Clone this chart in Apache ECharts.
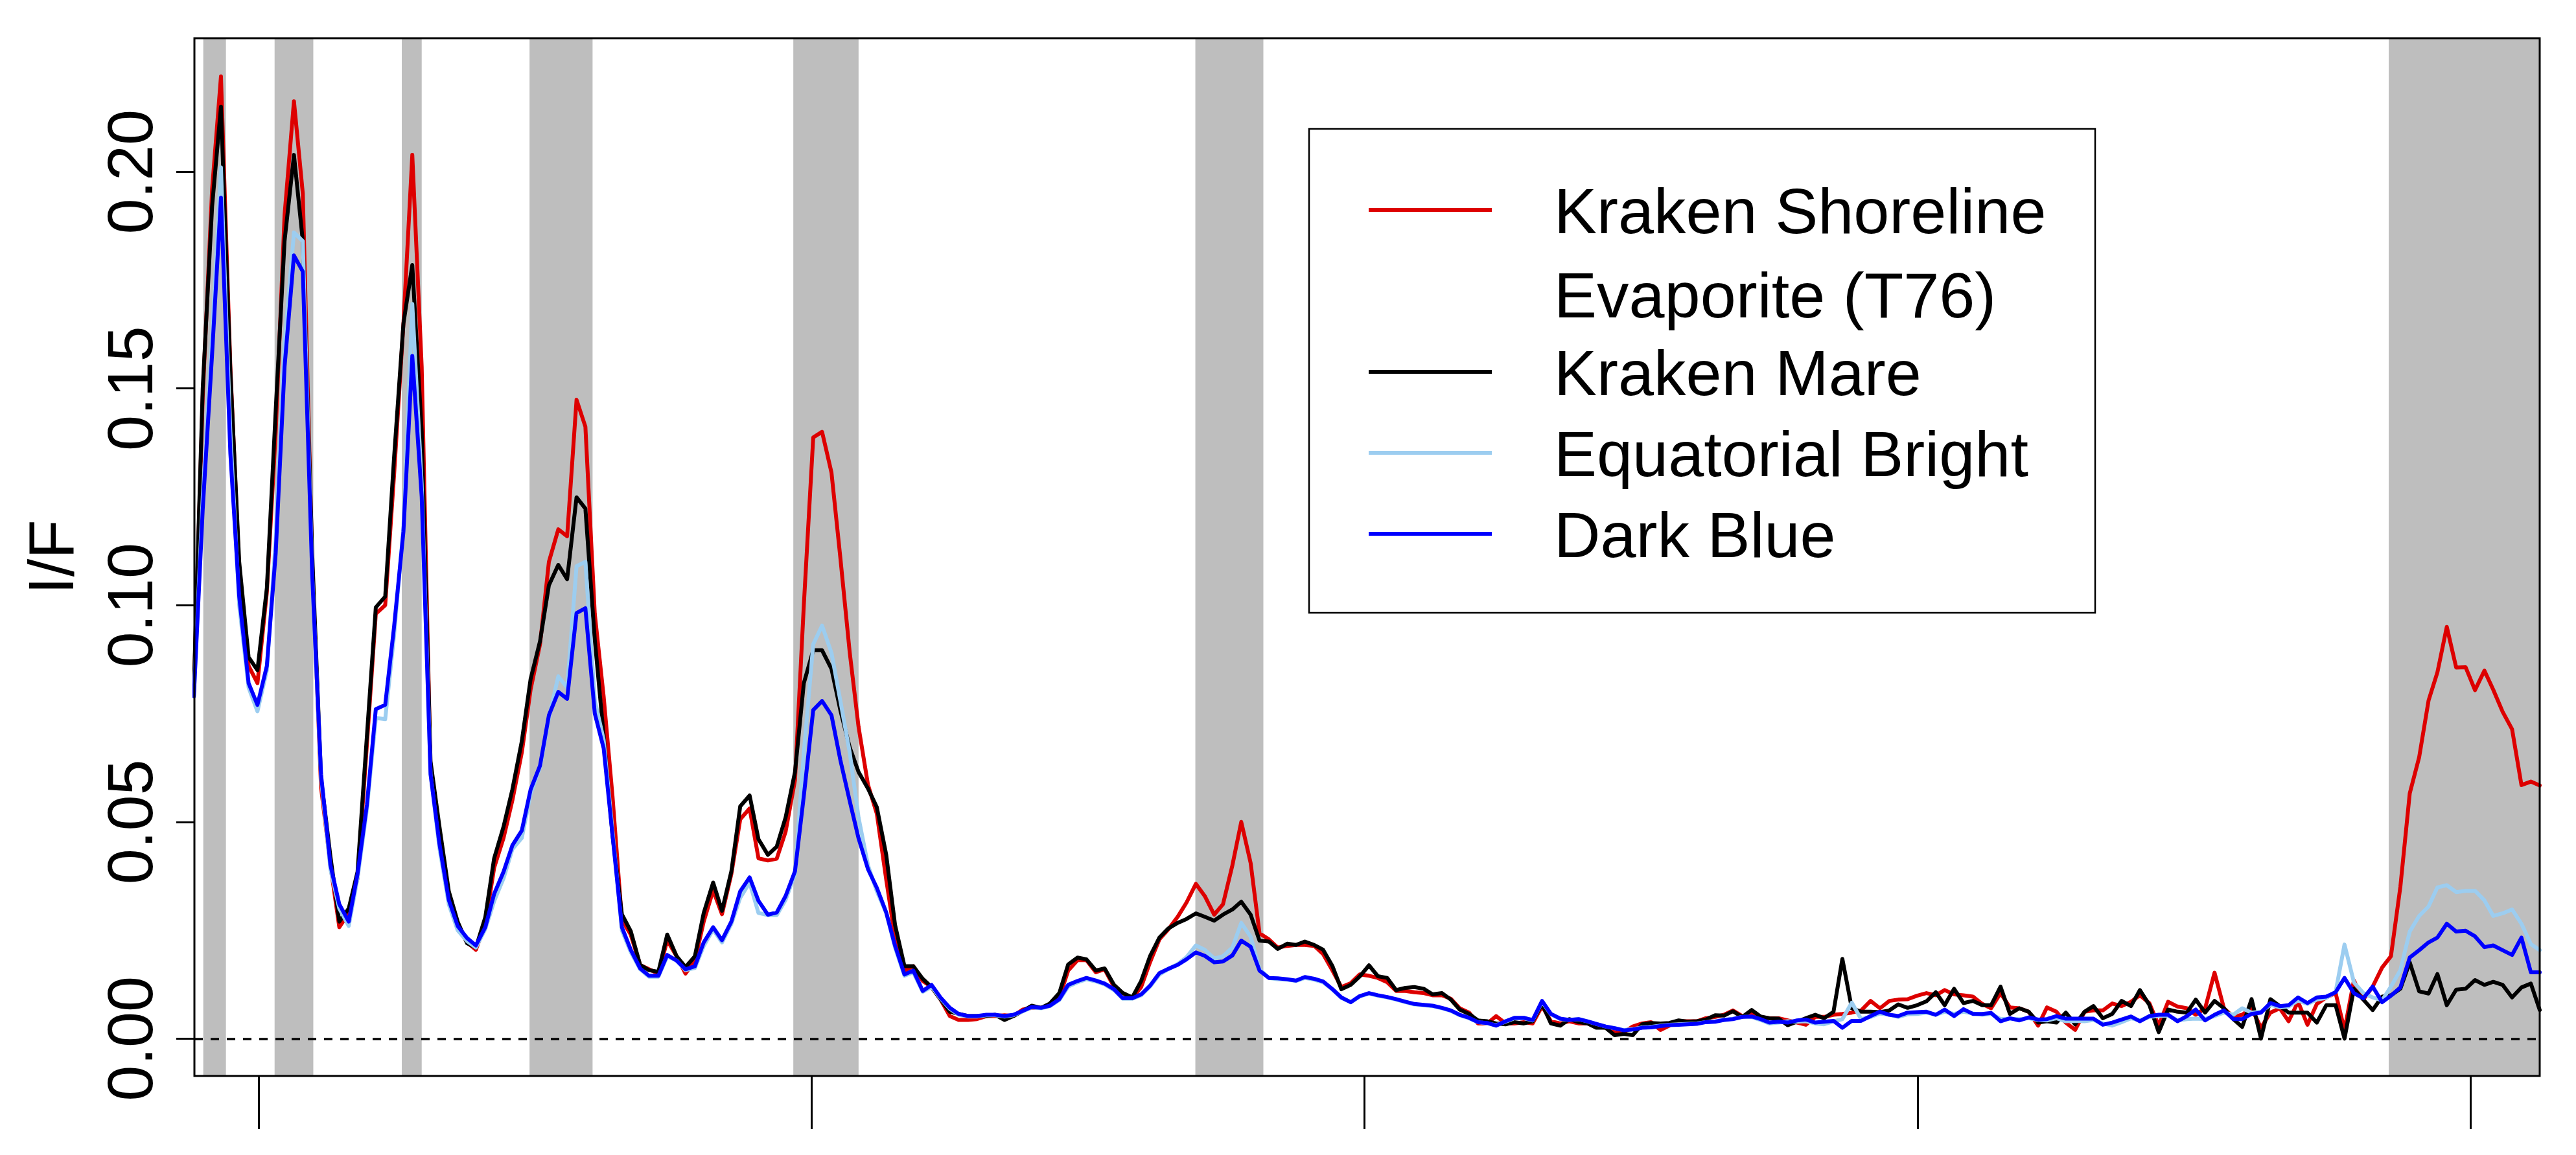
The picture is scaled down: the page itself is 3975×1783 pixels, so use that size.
<!DOCTYPE html>
<html><head><meta charset="utf-8">
<script src="https://cdn.jsdelivr.net/npm/echarts@6/dist/echarts.min.js"></script>
<style>html,body{margin:0;padding:0;background:#fff}#c{width:3975px;height:1783px}</style>
</head><body><div id="c"></div>
<script>
// wavelength of each spectral channel (micron)
const wavelength=[0.883,0.899,0.916,0.932,0.949,0.965,0.982,0.998,1.015,1.031,
1.047,1.064,1.080,1.097,1.113,1.130,1.146,1.163,1.179,1.196,
1.212,1.229,1.245,1.262,1.278,1.295,1.311,1.327,1.344,1.360,
1.377,1.393,1.410,1.426,1.443,1.459,1.476,1.492,1.509,1.525,
1.542,1.558,1.575,1.591,1.608,1.624,1.640,1.657,1.673,1.690,
1.706,1.723,1.739,1.756,1.772,1.789,1.805,1.822,1.838,1.855,
1.871,1.888,1.904,1.921,1.937,1.953,1.970,1.986,2.003,2.019,
2.036,2.052,2.069,2.085,2.102,2.118,2.135,2.151,2.168,2.184,
2.201,2.217,2.233,2.250,2.266,2.283,2.299,2.316,2.332,2.349,
2.365,2.382,2.398,2.415,2.431,2.448,2.464,2.481,2.497,2.514,
2.530,2.547,2.563,2.580,2.596,2.612,2.629,2.645,2.662,2.678,
2.695,2.711,2.728,2.744,2.761,2.777,2.794,2.810,2.827,2.843,
2.860,2.876,2.892,2.909,2.925,2.942,2.958,2.975,2.991,3.008,
3.024,3.041,3.057,3.074,3.090,3.107,3.123,3.140,3.156,3.172,
3.189,3.205,3.222,3.238,3.255,3.271,3.288,3.304,3.321,3.337,
3.354,3.370,3.387,3.403,3.419,3.436,3.452,3.469,3.485,3.502,
3.518,3.535,3.551,3.568,3.584,3.601,3.617,3.634,3.650,3.666,
3.683,3.700,3.716,3.732,3.749,3.765,3.782,3.798,3.815,3.831,
3.848,3.864,3.881,3.898,3.915,3.932,3.949,3.965,3.982,3.999,
4.016,4.033,4.049,4.066,4.083,4.100,4.117,4.133,4.150,4.167,
4.184,4.201,4.218,4.234,4.251,4.268,4.285,4.302,4.318,4.335,
4.352,4.369,4.386,4.402,4.419,4.436,4.453,4.470,4.487,4.503,
4.520,4.537,4.554,4.571,4.587,4.604,4.621,4.638,4.655,4.671,
4.688,4.705,4.722,4.739,4.756,4.772,4.789,4.806,4.823,4.840,
4.856,4.873,4.890,4.907,4.924,4.940,4.957,4.974,4.991,5.008,
5.025,5.041,5.058,5.075,5.092,5.109,5.125];

// I/F values per channel
const krakenShoreline=[.080,.148,.196,.222,.155,.108,.086,.082,.103,.140,
.190,.2163,.195,.110,.058,.040,.0257,.029,.037,.068,
.098,.100,.130,.165,.2039,.155,.062,.047,.033,.026,
.0222,.0205,.0265,.0394,.0463,.055,.066,.0806,.091,.110,
.1175,.1159,.1474,.1412,.098,.079,.056,.0274,.024,.017,
.016,.015,.0227,.019,.015,.018,.027,.0342,.0287,.038,
.0506,.0531,.0416,.0411,.0415,.0477,.0596,.100,.1387,.140,
.1306,.111,.0891,.0719,.0586,.0519,.0367,.0233,.0157,.0167,
.0133,.0119,.0091,.0052,.0043,.0043,.0045,.0052,.0052,.0054,
.0052,.0067,.0071,.0071,.0076,.0095,.0157,.0181,.0181,.0153,
.016,.0119,.0105,.0093,.0119,.0176,.0229,.0252,.0281,.0314,
.0357,.0329,.0286,.031,.04,.05,.0405,.0243,.0229,.021,
.0214,.0216,.0216,.0214,.0195,.0157,.0119,.0128,.0148,.0145,
.014,.013,.011,.011,.0107,.0105,.01,.01,.0092,.007,
.006,.0035,.0035,.0052,.0035,.0035,.0038,.0035,.0075,.004,
.0035,.004,.0035,.0035,.0028,.0025,.0015,.0015,.0028,.0035,
.0038,.002,.003,.004,.004,.004,.0047,.005,.0055,.0065,
.0052,.0058,.005,.0047,.0047,.0042,.0037,.0032,.005,.005,
.0055,.0057,.006,.0065,.0087,.007,.0087,.009,.0091,.0099,
.0105,.01,.0112,.0102,.01,.0097,.008,.007,.0105,.0072,
.007,.0062,.003,.0072,.0062,.0037,.002,.0062,.0065,.0065,
.0081,.0075,.0085,.01,.0082,.003,.0085,.0074,.007,.0055,
.007,.0152,.007,.005,.0055,.007,.0025,.006,.007,.004,
.0085,.0032,.008,.0095,.0105,.002,.0134,.009,.012,.0164,
.019,.035,.0566,.0649,.078,.0845,.095,.0856,.0857,.0804,
.0849,.0805,.0754,.0714,.0585,.0593,.0584];

const krakenMare=[.081,.150,.192,.215,.154,.110,.088,.085,.104,.145,
.184,.2039,.184,.112,.060,.042,.027,.030,.0385,.070,
.0995,.102,.134,.165,.1785,.140,.064,.049,.034,.027,
.022,.021,.028,.0416,.0489,.0575,.0686,.083,.0917,.1046,
.1093,.106,.1249,.1223,.092,.070,.047,.0287,.0248,.017,
.0158,.0154,.024,.019,.0165,.019,.029,.036,.0295,.0386,
.0536,.0561,.046,.0424,.0443,.051,.0615,.082,.0896,.0896,
.0853,.0758,.0672,.0615,.0577,.0534,.0424,.0262,.0167,.0167,
.0138,.0119,.0091,.0062,.0057,.0052,.0052,.0052,.0055,.0043,
.0052,.0064,.0076,.0071,.0081,.0105,.0171,.0187,.0183,.0157,
.0162,.0124,.0105,.0095,.0133,.019,.0233,.0254,.0267,.0276,
.0289,.0281,.0272,.0286,.0298,.0316,.0286,.0226,.0224,.0207,
.0219,.0216,.0224,.0216,.0205,.0167,.0114,.0124,.0143,.0169,
.0144,.014,.0112,.0117,.0119,.0115,.0102,.0105,.009,.0067,
.0057,.0042,.004,.0035,.0033,.0038,.0035,.004,.008,.0035,
.003,.0045,.0038,.0035,.0025,.0025,.0008,.0011,.0008,.0033,
.0036,.0035,.0036,.0042,.0039,.004,.0044,.0054,.0053,.0063,
.005,.0066,.0051,.0047,.0046,.0031,.0039,.0047,.0055,.0047,
.0062,.0184,.007,.0062,.0062,.0061,.0065,.0079,.0071,.0077,
.0086,.0107,.0077,.0115,.0082,.0087,.0077,.0077,.012,.0057,
.007,.0062,.0037,.004,.0037,.006,.0033,.0062,.0075,.0047,
.0057,.0087,.0075,.0112,.0078,.0015,.0067,.0062,.006,.009,
.006,.0087,.007,.0045,.0027,.0091,0,.0091,.0075,.006,
.006,.006,.0037,.0077,.0077,0,.0115,.009,.0066,.0097,
.01,.0115,.0176,.0109,.0104,.0149,.0077,.0113,.0115,.0135,
.0124,.0131,.0124,.0095,.0118,.0127,.0066];

const equatorialBright=[.079,.125,.162,.201,.140,.100,.081,.0755,.085,.115,
.160,.186,.184,.107,.060,.039,.030,.026,.037,.053,
.074,.0737,.093,.118,.1695,.128,.061,.044,.031,.025,
.0225,.021,.0253,.0317,.037,.0437,.0463,.0565,.0626,.074,
.0836,.081,.109,.110,.078,.069,.048,.025,.020,.016,
.0143,.0143,.019,.018,.0158,.0163,.0214,.0252,.0222,.0265,
.0325,.036,.029,.0285,.0285,.032,.038,.066,.091,.0953,
.089,.078,.066,.051,.040,.034,.029,.021,.0145,.0153,
.0108,.012,.0093,.0069,.0055,.0051,.0051,.0054,.0054,.0051,
.0054,.0063,.0072,.007,.0075,.0089,.012,.013,.0137,.0132,
.0125,.0112,.0092,.0092,.01,.012,.0148,.016,.0172,.0188,
.0215,.0205,.0185,.019,.021,.0267,.0235,.016,.014,.0137,
.0136,.0133,.014,.0136,.013,.0113,.0094,.0084,.0097,.0104,
.0099,.0095,.009,.0084,.0079,.0077,.0075,.007,.0064,.0054,
.0047,.0038,.0035,.0031,.0039,.0047,.0047,.0042,.0085,.0056,
.0045,.0043,.0045,.004,.0034,.0028,.0024,.002,.0022,.0026,
.0027,.003,.0032,.0033,.0034,.0035,.0038,.004,.0043,.0046,
.005,.005,.0043,.0035,.0037,.004,.0039,.004,.0035,.0033,
.004,.0045,.0083,.0045,.005,.0058,.0055,.005,.0056,.0057,
.006,.0055,.0062,.0057,.0062,.0058,.0055,.0057,.0045,.0046,
.0045,.0047,.0043,.0042,.0047,.004,.0041,.004,.0043,.0035,
.003,.0038,.0047,.0042,.005,.0052,.0053,.0042,.0045,.0046,
.0045,.0052,.006,.0055,.007,.006,.0062,.0078,.0072,.0074,
.0088,.008,.009,.0094,.0108,.0217,.013,.0105,.0095,.0088,
.012,.0158,.0247,.0283,.0305,.0349,.0354,.0338,.0341,.0341,
.0319,.0283,.0289,.0298,.0265,.0218,.0204];

const darkBlue=[.079,.122,.158,.194,.135,.102,.082,.077,.086,.112,
.155,.1807,.177,.107,.061,.040,.031,.027,.038,.054,
.076,.077,.095,.117,.1575,.125,.061,.045,.032,.026,
.0232,.0215,.0257,.0334,.0385,.0446,.048,.0575,.063,.0746,
.080,.0784,.0982,.0993,.075,.067,.047,.0257,.0205,.0162,
.0145,.0145,.0193,.018,.016,.0167,.0222,.0257,.0227,.027,
.034,.0372,.0318,.0286,.0291,.0329,.0386,.056,.0758,.0779,
.0746,.0643,.0548,.0462,.0391,.0348,.0291,.0214,.0148,.0157,
.011,.0124,.0095,.0071,.0057,.0052,.0052,.0055,.0055,.0052,
.0055,.0064,.0073,.0071,.0076,.0091,.0124,.0133,.014,.0134,
.0127,.0114,.0093,.0093,.0102,.0122,.0151,.0161,.017,.0183,
.0199,.0191,.0176,.0178,.0192,.0226,.0212,.0157,.014,.0139,
.0137,.0134,.0142,.0138,.0132,.0114,.0095,.0084,.0098,.0105,
.01,.0096,.0091,.0085,.008,.0078,.0076,.0071,.0065,.0055,
.0048,.0038,.0036,.003,.004,.0048,.0048,.0043,.0087,.0057,
.0046,.0043,.0045,.004,.0034,.0028,.0024,.0019,.0021,.0025,
.0026,.0029,.0031,.0032,.0033,.0034,.0038,.0039,.0043,.0045,
.005,.0051,.0045,.0037,.0039,.0037,.0042,.0044,.0037,.0039,
.0041,.0025,.0041,.0041,.0052,.0062,.0055,.0052,.006,.0061,
.0062,.0055,.0067,.0052,.0068,.0057,.0057,.0059,.004,.0047,
.0042,.0049,.0044,.0045,.0052,.0046,.0046,.0046,.0046,.0032,
.0037,.0044,.0051,.004,.0052,.0055,.0055,.004,.0052,.0067,
.0042,.0055,.0065,.0045,.0045,.0057,.006,.0082,.0075,.0077,
.0095,.0082,.0095,.0097,.0107,.014,.0105,.0093,.012,.0084,
.0099,.0118,.0187,.0204,.0222,.0233,.0265,.0247,.0249,.0236,
.0211,.0215,.0204,.0193,.0233,.0153,.0153];

// shaded wavelength windows (micron)
const windowBands=[[0.900,0.941],[1.029,1.099],[1.259,1.295],[1.490,1.604],[1.967,2.085],[2.694,2.817],[4.852,5.125]];
const xTicks=[1,2,3,4,5];
const yTicks=[0,0.05,0.10,0.15,0.20];
const legendLines=['Kraken Shoreline','Evaporite (T76)','Kraken Mare','Equatorial Bright','Dark Blue'];

const FONT='"Liberation Sans", Arial, Helvetica, sans-serif';
const RED='#DD0000', BLACK='#000000', LIGHT='#9CCDF0', BLUE='#0000FF';
const FS=99;

const chart=echarts.init(document.getElementById('c'),null,{renderer:'svg',width:3975,height:1783});
const pairs=a=>wavelength.map((w,i)=>[w,a[i]]);
const lineSeries=(name,arr,color,z)=>({
  type:'line',name:name,data:pairs(arr),showSymbol:false,symbol:'none',z:z,clip:true,silent:true,
  lineStyle:{color:color,width:6,join:'round',cap:'round'},itemStyle:{color:color}
});

// legend drawn as graphic (two-line first entry)
const LX=2020, LY=199, LW=1213, LH=747;
const rowY=[325,455,575,700,825];
const rowColor=[RED,null,BLACK,LIGHT,BLUE];
const legendGraphic=[{type:'rect',z:100,shape:{x:LX,y:LY,width:LW,height:LH},style:{fill:'#fff',stroke:'#000',lineWidth:2.5}}];
legendLines.forEach((t,k)=>{
  if(rowColor[k]) legendGraphic.push({type:'line',z:101,shape:{x1:2112,y1:rowY[k]-1,x2:2302,y2:rowY[k]-1},style:{stroke:rowColor[k],lineWidth:6}});
  legendGraphic.push({type:'text',z:101,x:2398,y:rowY[k],style:{text:t,fill:'#000',fontSize:FS,fontFamily:FONT,verticalAlign:'middle',align:'left'}});
});

chart.setOption({
  animation:false,
  backgroundColor:'#ffffff',
  textStyle:{fontFamily:FONT},
  grid:{left:300,right:56,top:59,bottom:122,show:true,borderColor:'#000',borderWidth:3,backgroundColor:'transparent',z:50},
  xAxis:{type:'value',min:0.884,max:5.125,
    axisLine:{show:false,onZero:false},
    axisTick:{show:true,customValues:xTicks,length:82,lineStyle:{color:'#000',width:3}},
    axisLabel:{show:false},splitLine:{show:false}},
  yAxis:{type:'value',min:-0.00862,max:0.23082,
    name:'I/F',nameLocation:'middle',nameGap:172,nameRotate:90,
    nameTextStyle:{fontSize:FS,color:'#000',fontFamily:FONT},
    axisLine:{show:false},
    axisTick:{show:true,customValues:yTicks,length:28,lineStyle:{color:'#000',width:3}},
    axisLabel:{customValues:yTicks,rotate:90,margin:50,fontSize:FS,color:'#000',fontFamily:FONT,formatter:v=>v.toFixed(2)},
    splitLine:{show:false}},
  series:[
    {type:'line',name:'windows',data:[],silent:true,z:1,
      markArea:{silent:true,itemStyle:{color:'#BEBEBE'},data:windowBands.map(b=>[{xAxis:b[0]},{xAxis:b[1]}])}},
    {type:'line',name:'zero',data:[],silent:true,z:2,
      markLine:{silent:true,symbol:['none','none'],label:{show:false},lineStyle:{color:'#000',width:3.5,type:[13,12]},data:[{yAxis:0}]}},
    lineSeries('Kraken Shoreline Evaporite (T76)',krakenShoreline,RED,3),
    lineSeries('Kraken Mare',krakenMare,BLACK,4),
    lineSeries('Equatorial Bright',equatorialBright,LIGHT,5),
    lineSeries('Dark Blue',darkBlue,BLUE,6)
  ],
  graphic:legendGraphic
});
</script></body></html>
